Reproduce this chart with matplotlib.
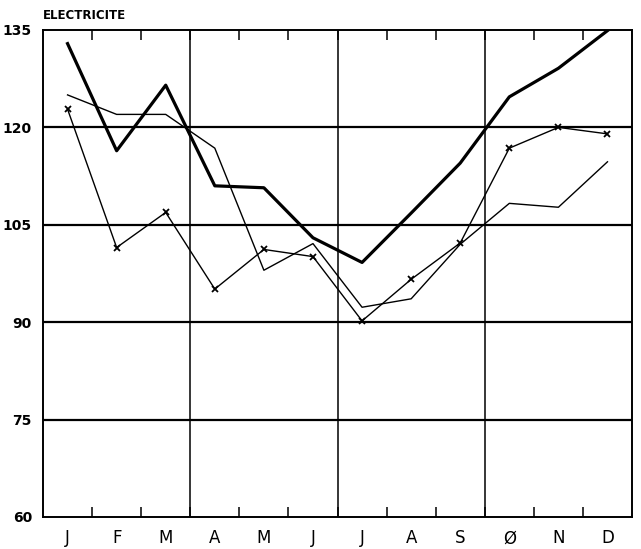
import numpy as np
import matplotlib
matplotlib.use('Agg')
import matplotlib.pyplot as plt

# months (the old plate prints October as a slashed O)
mois = ['J', 'F', 'M', 'A', 'M', 'J', 'J', 'A', 'S', 'Ø', 'N', 'D']

# three series
serie_epaisse = [132.9, 116.4, 126.5, 111.0, 110.7, 103.0, 99.2, 106.8, 114.5, 124.7, 129.1, 134.9]
serie_fine = [125.0, 122.0, 122.0, 116.8, 98.0, 102.1, 92.3, 93.6, 102.0, 108.3, 107.7, 114.7]
serie_croix = [122.8, 101.5, 106.9, 95.1, 101.2, 100.1, 90.2, 96.6, 102.2, 116.8, 120.0, 119.0]

niveaux = [60, 75, 90, 105, 120, 135]

fig = plt.figure(figsize=(6.41, 5.49), dpi=100)
ax = fig.add_axes([0.0671, 0.0583, 0.9189, 0.8871])

x = np.arange(len(mois)) + 0.5

# grid: thick horizontals, full verticals at quarters
for v in niveaux[1:-1]:
    ax.axhline(v, color='black', linewidth=1.6, zorder=1)
for q in [3, 6, 9]:
    ax.axvline(q, color='black', linewidth=1.1, zorder=1)

ax.plot(x, serie_epaisse, color='black', linewidth=2.3, zorder=3)
ax.plot(x, serie_fine, color='black', linewidth=1.0, zorder=3)
ax.plot(x, serie_croix, color='black', linewidth=1.0, marker='x',
        markersize=5, markeredgewidth=1.3, zorder=3)

ax.set_xlim(0, 12)
ax.set_ylim(60, 135)

for s in ax.spines.values():
    s.set_linewidth(1.4)
    s.set_color('black')

# month boundary ticks, inward, top and bottom
ax.set_xticks(np.arange(1, 12))
ax.set_xticklabels([])
ax.tick_params(axis='x', which='major', direction='in', length=7, width=1.1,
               top=True, bottom=True)
ax.set_xticks(x, minor=True)
ax.set_xticklabels(mois, minor=True, fontsize=12)
ax.tick_params(axis='x', which='minor', length=0, pad=9)

ax.set_yticks(niveaux)
ax.set_yticklabels([str(v) for v in niveaux], fontsize=10, fontweight='bold')
ax.tick_params(axis='y', length=0, pad=8)

fig.text(0.067, 0.972, 'ELECTRICITE', fontsize=8.5, fontweight='bold',
         ha='left', va='center')

fig.savefig('out.png', dpi=100)
